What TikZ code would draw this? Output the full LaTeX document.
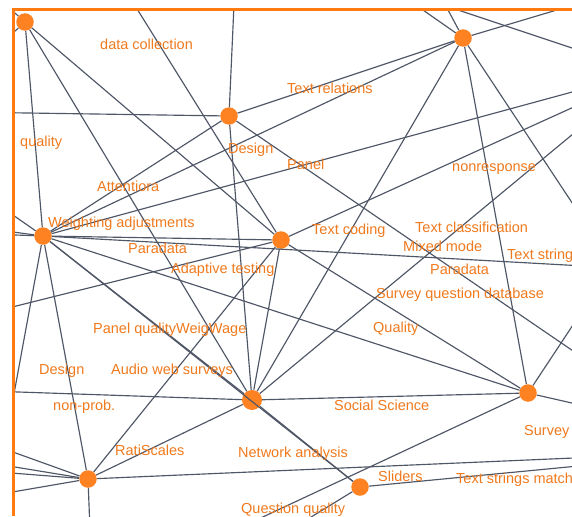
\documentclass[tikz,border=0pt]{standalone}
\usepackage{fontspec}
\setmainfont{Liberation Sans}
\definecolor{edgegray}{HTML}{4F5666}
\definecolor{dotorange}{HTML}{FF8222}
\definecolor{txtorange}{HTML}{F07A1E}
\definecolor{frameorange}{HTML}{FF7A10}
\tikzset{
  dot/.style={circle, fill=dotorange, inner sep=0pt, minimum size=17.5pt},
  bigdot/.style={dot, minimum size=20pt},
  edge/.style={draw=edgegray, line width=1.15pt},
  lbl/.style={anchor=west, inner sep=0pt, text height=10pt, text depth=3pt,
              yshift=-2pt, text=txtorange, font=\fontsize{14.5}{16}\selectfont},
  frame/.style={draw=frameorange, line width=3pt}
}
\begin{document}
\begin{tikzpicture}[x=1pt,y=-1pt]
\useasboundingbox (0,0) rectangle (572,516);
\fill[white] (0,0) rectangle (572,516);
% graph nodes
\node[dot] (A) at (25,22) {};
\node[dot] (B) at (229,116) {};
\node[dot] (C) at (463,38) {};
\node[dot] (D) at (43,236) {};
\node[dot] (E) at (281,240) {};
\node[bigdot] (F) at (252,400) {};
\node[dot] (G) at (528,393) {};
\node[dot] (H) at (88,479) {};
\node[dot] (I) at (360,487) {};
% off-canvas ends
\coordinate (a1) at (-30,-27);
\coordinate (a2) at (-20,63);
\coordinate (bT) at (236,-40);
\coordinate (bL) at (-40,112);
\coordinate (bR) at (620,383);
\coordinate (eT) at (119,-20);
\coordinate (eL) at (-40,320);
\coordinate (eR) at (620,86);
\coordinate (dR1) at (620,79);
\coordinate (dR2) at (620,268);
\coordinate (dL1) at (-40,178);
\coordinate (dL2) at (-40,225);
\coordinate (dL3) at (-40,233);
\coordinate (dL4) at (0,470);
\coordinate (fR) at (620,95);
\coordinate (fL) at (-40,390);
\coordinate (cT1) at (400,-6);
\coordinate (cT2) at (440,-5);
\coordinate (cT3) at (597,-2);
\coordinate (cR) at (600,245);
\coordinate (x1) at (430,0.7);
\coordinate (x2) at (620,64);
\coordinate (gU) at (600,284);
\coordinate (gR) at (620,414);
\coordinate (gD) at (220,537);
\coordinate (hL1) at (-40,433);
\coordinate (hL2) at (-40,458);
\coordinate (hL3) at (-40,469);
\coordinate (hL4) at (-40,501);
\coordinate (hD) at (90,530);
\coordinate (hR) at (620,456);
\coordinate (iR) at (620,462);
\coordinate (iD) at (290,530);
\begin{scope}
\clip (13,10) rectangle (572,516);
% edges between visible nodes
\draw[edge] (A) -- (D);
\draw[edge] (A) -- (F);
\draw[edge] (A) -- (E);
\draw[edge] (B) -- (C);
\draw[edge] (B) -- (D);
\draw[edge] (B) -- (F);
\draw[edge] (C) -- (D);
\draw[edge] (C) -- (F);
\draw[edge] (C) -- (G);
\draw[edge] (D) -- (E);
\draw[edge] (D) -- (G);
\draw[edge] (D) -- (H);
\draw[edge] (D) -- (F);
\draw[edge] (D) -- (I);
\draw[edge] (E) -- (F);
\draw[edge] (E) -- (G);
\draw[edge] (E) -- (H);
\draw[edge] (F) -- (G);
\draw[edge] (F) -- (H);
\draw[edge] (F) -- (I);
% edges leaving the picture
\draw[edge] (A) -- (a1);
\draw[edge] (A) -- (a2);
\draw[edge] (B) -- (bT);
\draw[edge] (B) -- (bL);
\draw[edge] (B) -- (bR);
\draw[edge] (E) -- (eT);
\draw[edge] (E) -- (eL);
\draw[edge] (E) -- (eR);
\draw[edge] (D) -- (dR1);
\draw[edge] (D) -- (dR2);
\draw[edge] (D) -- (dL1);
\draw[edge] (D) -- (dL2);
\draw[edge] (D) -- (dL3);
\draw[edge] (D) -- (dL4);
\draw[edge] (F) -- (fR);
\draw[edge] (F) -- (fL);
\draw[edge] (C) -- (cT1);
\draw[edge] (C) -- (cT2);
\draw[edge] (C) -- (cT3);
\draw[edge] (C) -- (cR);
\draw[edge] (x1) -- (x2);
\draw[edge] (G) -- (gU);
\draw[edge] (G) -- (gR);
\draw[edge] (G) -- (gD);
\draw[edge] (H) -- (hL1);
\draw[edge] (H) -- (hL2);
\draw[edge] (H) -- (hL3);
\draw[edge] (H) -- (hL4);
\draw[edge] (H) -- (hD);
\draw[edge] (H) -- (hR);
\draw[edge] (I) -- (iR);
\draw[edge] (I) -- (iD);
% labels
\node[lbl] (t1) at (100,44) {data collection};
\node[lbl] (t2) at (287,88) {Text relations};
\node[lbl] (t3) at (20,141) {quality};
\node[lbl] (t4) at (228,148) {Design};
\node[lbl] (t5) at (287,164) {Panel};
\node[lbl] (t6) at (452,166) {nonresponse};
\node[lbl] (t7) at (97,186) {Attentiora};
\node[lbl] (t8) at (48,222) {Weighting adjustments};
\node[lbl] (t9) at (128,248) {Paradata};
\node[lbl] (t10) at (171,268) {Adaptive testing};
\node[lbl] (t11) at (312,229) {Text coding};
\node[lbl] (t12) at (415,227) {Text classification};
\node[lbl] (t13) at (403,246) {Mixed mode};
\node[lbl] (t14) at (507,254) {Text string};
\node[lbl] (t15) at (430,269) {Paradata};
\node[lbl] (t16) at (376,293) {Survey question database};
\node[lbl] (t17) at (93,328) {Panel qualityWeigWage};
\node[lbl] (t18) at (373,327) {Quality};
\node[lbl] (t19) at (39,369) {Design};
\node[lbl] (t20) at (111,369) {Audio web surveys};
\node[lbl] (t21) at (53,405) {non-prob.};
\node[lbl] (t22) at (334,405) {Social Science};
\node[lbl] (t23) at (115,450) {RatiScales};
\node[lbl] (t24) at (238,452) {Network analysis};
\node[lbl] (t25) at (524,430) {Survey};
\node[lbl] (t26) at (378,476) {Sliders};
\node[lbl] (t27) at (456,478) {Text strings match};
\node[lbl] (t28) at (241,508) {Question quality};
\end{scope}
% frame
\draw[frame] (13,516) -- (13,10) -- (572,10);
\end{tikzpicture}
\end{document}
